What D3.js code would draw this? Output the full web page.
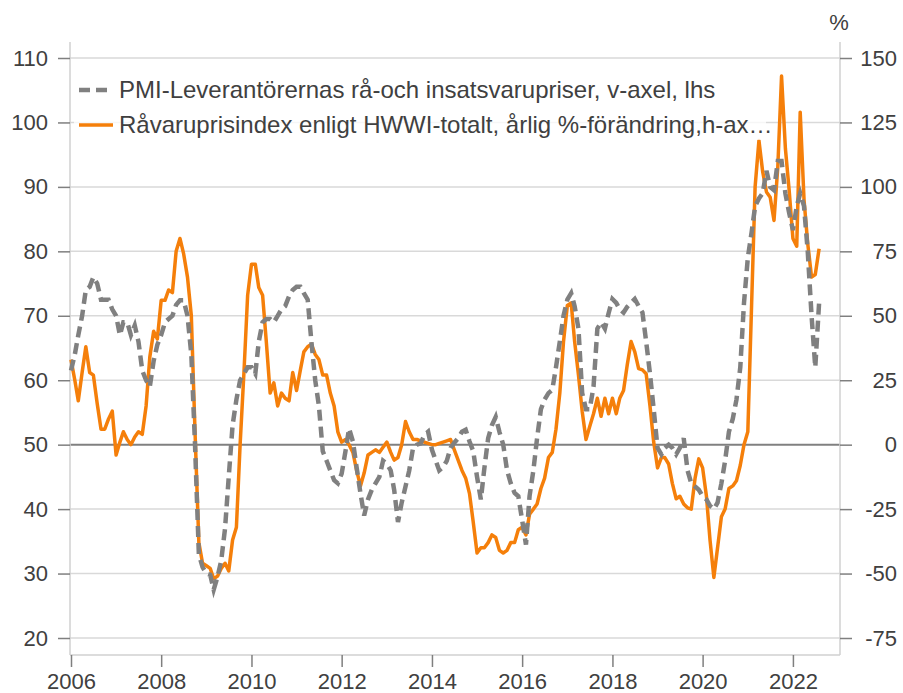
<!DOCTYPE html>
<html><head><meta charset="utf-8">
<script src="https://cdn.jsdelivr.net/npm/d3@7"></script>
<style>
body{margin:0;background:#fff}
text{font-family:"Liberation Sans",Arial,Helvetica,sans-serif}
</style>
</head><body>
<svg id="chart" width="903" height="693"></svg>
<script>
// ---- data (monthly, starting January 2006) ----
const startYear = 2006;
const pmiValues = [
  61.5,64,67,70,74,74.5,76,75,72.5,72.5,72.5,71,          // 2006
  70,67,69,69,67,68.5,66,61.5,60,59,63,65.5,              // 2007
  67,69,69.5,70,71.7,72.4,72.4,70,64,50,33,31,            // 2008
  30,29.8,27.5,29.5,32,37,45,53,57,60,61,62,              // 2009
  62,61,66,69,69.5,69.5,69,70,71,71.5,73,74,              // 2010
  74.5,74.5,73.5,72.5,66,60,56,49,47.5,46,44.5,44,        // 2011
  45.5,49,52.5,50.5,46.5,42.5,39,41.5,43,44,45,47.5,      // 2012
  47,46,43,38,41,43.5,46,49.5,50,50.2,51.5,52,            // 2013
  49.2,47.5,46,46.5,47.5,49.5,50.3,51,52,52.3,50.5,49,    // 2014
  45,41.5,46.3,51,53,54.3,52,50,46,44,42.5,42,            // 2015
  38.3,34.5,42,46,51,55.5,57,58,58.5,62,66,70,            // 2016
  72.5,73.5,71.5,68,58,55.5,55.5,59,68,69,68,70.4,        // 2017
  72.6,72,71,70.5,71.4,72,72.6,71.5,70.5,66,61,55.5,      // 2018
  49.5,48.5,49.5,50,49.5,48.5,49.5,51,46,44,43.5,43,      // 2019
  42,41.5,40.5,40,41,44,47.5,52,54,57,62,72,              // 2020
  79,83,87,88.2,89,92.5,90,89.5,94,94,89,86,              // 2021
  83.3,87,89,87,80,70,62,72                               // 2022
];
const hwwiValues = [
  33,25,17,28,38,28,27,16,6,6,10,13,                      // 2006
  -4,1,5,2,0,3,5,4,15,34,44,41,                           // 2007
  56,56,60,59,75,80,74,65,50,5,-38,-46,                   // 2008
  -47,-48,-52,-51,-48,-46,-49,-37,-32,0,28,58,            // 2009
  70,70,61,58,40,20,24,15,20,18,17,28,                    // 2010
  21,29,36,38,39,35,33,27,27,20,15,5,                     // 2011
  1,2,0,-3,-10,-16,-11,-4,-3,-2,-3,-1,                    // 2012
  1,-3,-6,-5,0,9,5,2,2,1.5,1,0.5,                         // 2013
  0,0,0.5,1,1.5,2,-2,-6,-10,-13,-19,-30,                  // 2014
  -42,-40,-40,-38,-35,-36,-41,-42,-41,-38,-38,-33,        // 2015
  -32,-35,-27,-25,-23,-17,-13,-5,-3,6,20,40,              // 2016
  54,55,40,27,13,2,7,12,18,11,18,12,                      // 2017
  18,12,18,21,31,40,36,29.5,29,27.5,15,1,                 // 2018
  -9,-5,-5,-7.5,-15,-21,-20,-23,-24.5,-25,-13,-5.5,       // 2019
  -9,-20,-37,-51.5,-40,-28,-25,-17,-16,-14,-8,0,          // 2020
  5,55,100,118,106,98,96,87,108,143,115,99,               // 2021
  80,77,129,95,78,65,66,76                                // 2022
];
const leftTicks = [20,30,40,50,60,70,80,90,100,110];
const rightTicks = [-75,-50,-25,0,25,50,75,100,125,150];
const yearTicks = [2006,2008,2010,2012,2014,2016,2018,2020,2022];
const legendLabels = [
  "PMI-Leverantörernas rå-och insatsvarupriser, v-axel, lhs",
  "Råvaruprisindex enligt HWWI-totalt, årlig %-förändring,h-ax…"
];
const rightUnit = "%";

// ---- layout ----
const svg = d3.select("#chart");
const plotL = 70, plotR = 840, plotT = 42, plotB = 655;
const x = d3.scaleTime().domain([new Date(2006,0,1), new Date(2023,0,1)]).range([71, 838]);
const yL = d3.scaleLinear().domain([20,110]).range([638,58]);
const yR = d3.scaleLinear().domain([-75,150]).range([638,58]);
const textCol = "#404040", fs = 22, legFs = 24;
const dateOf = i => new Date(startYear, i, 1);

// gridlines
svg.append("g").selectAll("line").data(leftTicks).join("line")
  .attr("x1", plotL).attr("x2", plotR)
  .attr("y1", d => yL(d)).attr("y2", d => yL(d))
  .attr("stroke", d => d === 50 ? "#808080" : "#d9d9d9")
  .attr("stroke-width", d => d === 50 ? 2 : 1.5);

// frame
const frame = svg.append("g").attr("stroke", "#d0d0d0").attr("stroke-width", 1.5);
frame.append("line").attr("x1", plotL).attr("x2", plotL).attr("y1", plotT).attr("y2", plotB);
frame.append("line").attr("x1", plotR).attr("x2", plotR).attr("y1", plotT).attr("y2", plotB);
frame.append("line").attr("x1", plotL).attr("x2", plotR).attr("y1", plotB).attr("y2", plotB);

// axes
function styleAxis(g){
  g.select(".domain").remove();
  g.selectAll(".tick line").attr("stroke", "#7f7f7f").attr("stroke-width", 1.5);
  g.selectAll(".tick text").attr("fill", textCol).style("font-size", fs + "px");
}
const plainNum = d => String(d);
svg.append("g").attr("transform", `translate(${plotL},0)`)
  .call(d3.axisLeft(yL).tickValues(leftTicks).tickFormat(plainNum).tickSize(12).tickPadding(10))
  .call(styleAxis);
svg.append("g").attr("transform", `translate(${plotR},0)`)
  .call(d3.axisRight(yR).tickValues(rightTicks).tickFormat(plainNum).tickSize(12).tickPadding(10))
  .call(styleAxis)
  .call(g => g.selectAll(".tick text").attr("text-anchor", "end").attr("x", 57));
svg.append("g").attr("transform", `translate(0,${plotB})`)
  .call(d3.axisBottom(x).tickValues(yearTicks.map(y => new Date(y,0,1))).tickFormat(d3.timeFormat("%Y")).tickSize(12).tickPadding(6))
  .call(styleAxis);

svg.append("text").attr("x", 839).attr("y", 30).attr("text-anchor", "middle")
  .attr("fill", textCol).style("font-size", fs + "px").text(rightUnit);

// lines
const hwwiLine = d3.line().x((d,i) => x(dateOf(i))).y(d => yR(d));
const pmiLine = d3.line().x((d,i) => x(dateOf(i))).y(d => yL(d));
svg.append("path").datum(hwwiValues).attr("d", hwwiLine)
  .attr("fill", "none").attr("stroke", "#f57f0a").attr("stroke-width", 3.5).attr("stroke-linejoin", "round");
svg.append("path").datum(pmiValues).attr("d", pmiLine)
  .attr("fill", "none").attr("stroke", "#808080").attr("stroke-width", 4.5).attr("stroke-dasharray", "11,6");

// legend
svg.append("rect").attr("x", 74).attr("y", 68).attr("width", 692).attr("height", 72)
  .attr("fill", "#fff").attr("fill-opacity", 0.75);
const leg = svg.append("g");
leg.append("line").attr("x1", 79).attr("x2", 113).attr("y1", 90).attr("y2", 90)
  .attr("stroke", "#808080").attr("stroke-width", 4.5).attr("stroke-dasharray", "11,6");
leg.append("line").attr("x1", 79).attr("x2", 113).attr("y1", 125).attr("y2", 125)
  .attr("stroke", "#f57f0a").attr("stroke-width", 3.5);
leg.selectAll("text").data(legendLabels).join("text")
  .attr("x", 119).attr("y", (d,i) => 98 + i*35)
  .attr("fill", textCol).style("font-size", legFs + "px").text(d => d);
</script>
</body></html>
